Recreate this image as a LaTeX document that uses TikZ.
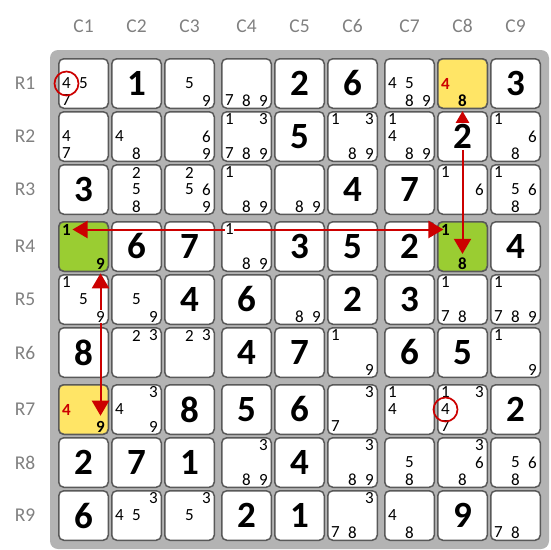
\documentclass[tikz,border=0pt]{standalone}
\usepackage{fontspec}
\setmainfont{Carlito}
\usetikzlibrary{arrows.meta}

\definecolor{boardgray}{HTML}{B3B3B3}
\definecolor{edgegray}{HTML}{595959}
\definecolor{labelgray}{HTML}{808080}
\definecolor{linkred}{HTML}{CC0000}
\definecolor{pickyellow}{HTML}{FFE566}
\definecolor{pickgreen}{HTML}{9ACD32}

\tikzset{
	cell/.style={draw=edgegray, line width=1.5pt, rounded corners=5pt, fill=white, minimum size=49.5pt, inner sep=0pt},
	given/.style={fill=white, inner sep=1pt, font=\fontsize{37}{40}\selectfont\bfseries},
	cand/.style={fill=white, inner sep=0.5pt, font=\fontsize{17}{19}\selectfont},
	keycand/.style={inner sep=1pt, font=\fontsize{17}{19}\selectfont\bfseries},
	lbl/.style={text=labelgray, font=\fontsize{19.5}{22}\selectfont},
	link/.style={draw=linkred, line width=2pt, {Triangle[length=15pt,width=17pt]}-{Triangle[length=15pt,width=17pt]}},
	ring/.style={circle, draw=linkred, line width=1.7pt, minimum size=24pt, inner sep=0pt}
}

\begin{document}
\begin{tikzpicture}[x=1pt, y=-1pt]
	\useasboundingbox (0,0) rectangle (550,550);
	% Board
	\fill[boardgray, rounded corners=8pt] (50,50) rectangle (549,549);
	
	% Row and column labels
	\foreach \i in {1,...,9} {
		\node[lbl] (col\i) at ({58+(\i-1)*53+4*int((\i-1)/3)+25.5}, 26) {C\i};
		\node[lbl] (row\i) at (25, {58+(\i-1)*53+4*int((\i-1)/3)+25.5}) {R\i};
	}
	
	% Cells
	\foreach \r in {1,...,9}
		\foreach \c in {1,...,9}
			\node[cell] (c\r\c) at ({58+(\c-1)*53+4*int((\c-1)/3)+25.5}, {58+(\r-1)*53+4*int((\r-1)/3)+25.5}) {};
	\foreach \r/\c/\col in {1/8/pickyellow, 7/1/pickyellow, 4/1/pickgreen, 4/8/pickgreen}
		\node[cell, fill=\col] (c\r\c) at (c\r\c) {};
	
	% Chain digits in the coloured cells
	\node[keycand, text=linkred] (c18d4) at ([shift={(-17,0)}]c18) {4};
	\node[keycand] (c18d8) at ([shift={(0,17)}]c18) {8};
	\node[keycand, text=linkred] (c71d4) at ([shift={(-17,0)}]c71) {4};
	\node[keycand] (c71d9) at ([shift={(17,17)}]c71) {9};
	\node[keycand] (c41d1) at ([shift={(-17,-17)}]c41) {1};
	\node[keycand] (c41d9) at ([shift={(17,17)}]c41) {9};
	\node[keycand] (c48d1) at ([shift={(-17,-17)}]c48) {1};
	\node[keycand] (c48d8) at ([shift={(0,17)}]c48) {8};
	
	% Links
	\draw[link, shorten <=0.5pt, shorten >=-3.5pt] (c41d1) -- (c48d1);
	\draw[link, shorten <=3.5pt, shorten >=2.5pt] (c18d8) -- (c48d8);
	\draw[link, shorten <=3pt, shorten >=4pt] (c41d9) -- (c71d9);
	
	% Givens
	\foreach \r/\c/\v in {1/2/1, 1/5/2, 1/6/6, 1/9/3, 2/5/5, 2/8/2, 3/1/3, 3/6/4, 3/7/7,
		4/2/6, 4/3/7, 4/5/3, 4/6/5, 4/7/2, 4/9/4, 5/3/4, 5/4/6, 5/6/2, 5/7/3,
		6/1/8, 6/4/4, 6/5/7, 6/7/6, 6/8/5, 7/3/8, 7/4/5, 7/5/6, 7/9/2,
		8/1/2, 8/2/7, 8/3/1, 8/5/4, 9/1/6, 9/4/2, 9/5/1, 9/8/9}
		\node[given] (c\r\c v) at (c\r\c) {\v};
	
	% Candidates
	\foreach \r/\c/\ds in {1/1/{4,5,7}, 1/3/{5,9}, 1/4/{7,8,9}, 1/7/{4,5,8,9},
		2/1/{4,7}, 2/2/{4,8}, 2/3/{6,9}, 2/4/{1,3,7,8,9}, 2/6/{1,3,8,9}, 2/7/{1,4,8,9}, 2/9/{1,6,8},
		3/2/{2,5,8}, 3/3/{2,5,6,9}, 3/4/{1,8,9}, 3/5/{8,9}, 3/8/{1,6}, 3/9/{1,5,6,8},
		4/4/{1,8,9},
		5/1/{1,5,9}, 5/2/{5,9}, 5/5/{8,9}, 5/8/{1,7,8}, 5/9/{1,7,8,9},
		6/2/{2,3}, 6/3/{2,3}, 6/6/{1,9}, 6/9/{1,9},
		7/2/{3,4,9}, 7/6/{3,7}, 7/7/{1,4}, 7/8/{1,3,4,7},
		8/4/{3,8,9}, 8/6/{3,8,9}, 8/7/{5,8}, 8/8/{3,6,8}, 8/9/{5,6,8},
		9/2/{3,4,5}, 9/3/{3,5}, 9/6/{3,7,8}, 9/7/{4,8}, 9/9/{7,8}}
		\foreach \d in \ds
			\node[cand] (c\r\c d\d) at ([shift={({17*mod(\d-1,3)-17},{17*int((\d-1)/3)-17})}]c\r\c) {\d};
	
	% Circled candidates
	\node[ring] (ring11) at (c11d4) {};
	\node[ring] (ring78) at (c78d4) {};
\end{tikzpicture}
\end{document}
